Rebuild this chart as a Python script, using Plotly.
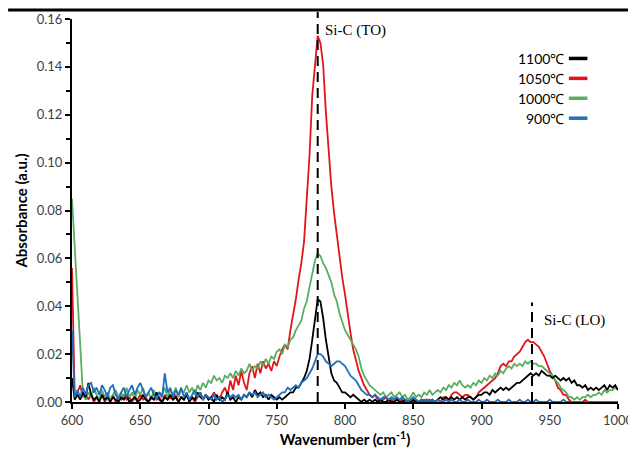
import numpy as np
import plotly.graph_objects as go

# Wavenumber grid (cm^-1), sampled every 2 cm^-1
wavenumber = list(range(600, 1001, 2))

abs_1100 = [
 0.010,0.001,0.003,0.001,0.004,0.002,0.008,0.003,0.001,0.002,
 0.000,0.003,0.001,0.002,0.000,0.002,0.001,0.000,0.002,0.001,
 0.003,0.000,0.001,0.002,0.000,0.001,0.003,0.001,0.000,0.002,
 0.001,0.004,0.001,0.000,0.002,0.001,0.003,0.001,0.002,0.000,
 0.002,0.001,0.003,0.000,0.002,0.001,0.004,0.002,0.001,0.003,
 0.001,0.002,0.000,0.003,0.001,0.002,0.001,0.004,0.001,0.002,
 0.000,0.002,0.001,0.003,0.002,0.004,0.002,0.005,0.003,0.004,
 0.002,0.003,0.001,0.003,0.002,0.001,0.002,0.001,0.002,0.003,
 0.004,0.004,0.006,0.006,0.008,0.010,0.013,0.018,0.026,0.035,
 0.043,0.042,0.035,0.026,0.018,0.012,0.009,0.008,0.006,0.004,
 0.004,0.003,0.002,0.003,0.002,0.001,0.000,0.001,0.000,0.001,
 0.000,0.001,0.000,0.001,0.000,0.000,0.001,0.000,0.000,0.001,
 0.000,0.000,0.001,0.000,0.000,0.001,0.000,0.000,0.001,0.000,
 0.001,0.000,0.001,0.000,0.001,0.002,0.001,0.002,0.001,0.002,
 0.001,0.002,0.001,0.002,0.001,0.002,0.002,0.001,0.002,0.003,
 0.003,0.004,0.004,0.003,0.005,0.004,0.005,0.006,0.005,0.006,
 0.005,0.006,0.007,0.008,0.008,0.009,0.010,0.011,0.012,0.011,
 0.012,0.011,0.013,0.012,0.011,0.011,0.010,0.011,0.010,0.009,
 0.010,0.009,0.010,0.008,0.009,0.007,0.007,0.006,0.007,0.005,
 0.006,0.005,0.006,0.005,0.006,0.007,0.005,0.007,0.006,0.007,
 0.005]

abs_1050 = [
 0.056,0.002,0.004,0.007,0.002,0.004,0.001,0.003,0.000,0.002,
 0.001,0.003,0.000,0.002,0.001,0.003,0.000,0.002,0.001,0.003,
 0.001,0.002,0.000,0.002,0.001,0.003,0.001,0.002,0.000,0.002,
 0.003,0.001,0.002,0.000,0.003,0.001,0.002,0.001,0.003,0.000,
 0.002,0.001,0.003,0.001,0.002,0.000,0.002,0.004,0.001,0.003,
 0.001,0.002,0.004,0.002,0.001,0.004,0.006,0.003,0.009,0.005,
 0.011,0.007,0.013,0.008,0.005,0.012,0.015,0.010,0.016,0.012,
 0.017,0.014,0.016,0.013,0.017,0.015,0.019,0.022,0.024,0.022,
 0.030,0.036,0.043,0.051,0.058,0.067,0.085,0.103,0.128,0.140,
 0.153,0.150,0.141,0.121,0.105,0.090,0.079,0.070,0.060,0.052,
 0.045,0.036,0.029,0.022,0.017,0.013,0.010,0.007,0.005,0.003,
 0.002,0.003,0.001,0.000,0.001,0.002,0.000,0.001,0.000,0.002,
 0.000,0.001,0.000,0.001,0.000,0.000,0.001,0.000,0.000,0.001,
 0.000,0.001,0.000,0.000,0.001,0.000,0.002,0.002,0.001,0.003,
 0.004,0.004,0.003,0.002,0.003,0.003,0.002,0.001,0.002,0.004,
 0.005,0.006,0.007,0.008,0.009,0.010,0.012,0.015,0.016,0.015,
 0.017,0.017,0.019,0.020,0.021,0.023,0.025,0.026,0.025,0.025,
 0.024,0.023,0.021,0.019,0.016,0.013,0.011,0.009,0.006,0.005,
 0.003,0.003,0.001,0.000,0.000,0.000,0.000,0.000,0.001,0.000,
 0.000,0.000,0.000,0.000,0.000,0.000,0.000,0.000,0.000,0.000,
 0.000]

abs_1000 = [
 0.085,0.066,0.046,0.024,0.003,0.001,0.004,0.002,0.006,0.003,
 0.001,0.005,0.002,0.004,0.001,0.003,0.005,0.002,0.004,0.001,
 0.006,0.002,0.004,0.001,0.005,0.003,0.006,0.002,0.004,0.001,
 0.005,0.002,0.004,0.003,0.006,0.002,0.005,0.003,0.006,0.002,
 0.005,0.004,0.007,0.004,0.006,0.003,0.007,0.005,0.008,0.006,
 0.009,0.008,0.011,0.009,0.010,0.008,0.011,0.010,0.012,0.010,
 0.013,0.011,0.014,0.012,0.013,0.016,0.013,0.015,0.014,0.017,
 0.015,0.018,0.016,0.019,0.018,0.021,0.022,0.020,0.024,0.023,
 0.026,0.027,0.030,0.032,0.034,0.039,0.042,0.048,0.053,0.059,
 0.062,0.061,0.058,0.056,0.053,0.050,0.045,0.042,0.037,0.033,
 0.030,0.028,0.026,0.024,0.022,0.019,0.014,0.011,0.009,0.007,
 0.006,0.005,0.004,0.003,0.004,0.002,0.003,0.004,0.002,0.003,
 0.004,0.002,0.003,0.001,0.002,0.004,0.002,0.003,0.002,0.004,
 0.003,0.005,0.003,0.004,0.005,0.004,0.006,0.005,0.007,0.006,
 0.008,0.007,0.009,0.007,0.006,0.007,0.006,0.008,0.007,0.009,
 0.008,0.010,0.009,0.011,0.010,0.012,0.011,0.013,0.012,0.014,
 0.015,0.014,0.016,0.015,0.016,0.015,0.017,0.016,0.017,0.016,
 0.016,0.015,0.015,0.014,0.013,0.012,0.011,0.009,0.008,0.006,
 0.005,0.004,0.002,0.002,0.001,0.002,0.001,0.002,0.002,0.003,
 0.002,0.003,0.003,0.004,0.003,0.005,0.004,0.005,0.005,0.006,
 0.005]

abs_900 = [
 0.030,0.002,0.005,0.002,0.006,0.003,0.007,0.008,0.004,0.006,
 0.003,0.007,0.005,0.002,0.006,0.007,0.003,0.001,0.004,0.006,
 0.002,0.005,0.007,0.003,0.006,0.008,0.005,0.002,0.004,0.006,
 0.003,0.001,0.004,0.002,0.012,0.004,0.006,0.002,0.005,0.003,
 0.006,0.002,0.004,0.001,0.003,0.005,0.002,0.004,0.001,0.003,
 0.002,0.001,0.003,0.001,0.002,0.000,0.001,0.003,0.002,0.003,
 0.002,0.003,0.001,0.003,0.002,0.004,0.003,0.004,0.002,0.003,
 0.004,0.002,0.003,0.002,0.001,0.002,0.003,0.004,0.004,0.006,
 0.005,0.006,0.007,0.006,0.008,0.009,0.010,0.012,0.014,0.017,
 0.020,0.020,0.019,0.017,0.016,0.015,0.016,0.017,0.017,0.016,
 0.015,0.013,0.011,0.010,0.009,0.007,0.005,0.004,0.003,0.003,
 0.002,0.003,0.002,0.001,0.002,0.002,0.001,0.002,0.001,0.002,
 0.001,0.002,0.001,0.000,0.001,0.002,0.001,0.000,0.001,0.000,
 0.001,0.000,0.001,0.000,0.001,0.000,0.000,0.001,0.000,0.001,
 0.000,0.000,0.001,0.000,0.000,0.001,0.000,0.000,0.000,0.001,
 0.000,0.000,0.001,0.000,0.000,0.000,0.001,0.000,0.000,0.000,
 0.001,0.000,0.000,0.000,0.001,0.000,0.000,0.001,0.000,0.000,
 0.001,0.000,0.000,0.000,0.000,0.001,0.000,0.000,0.000,0.000,
 0.001,0.000,0.000,0.000,0.000,0.000,0.000,0.000,0.000,0.000,
 0.000,0.000,0.000,0.000,0.000,0.000,0.000,0.000,0.000,0.000,
 0.000]

series_names = ["1100\u2103", "1050\u2103", "1000\u2103", "900\u2103"]
series_colors = ["#000000", "#E3151B", "#5AAE61", "#1F6FBA"]
series_values = [abs_1100, abs_1050, abs_1000, abs_900]

peak_positions = [780, 937]
peak_labels = ["Si-C (TO)", "Si-C (LO)"]

fig = go.Figure()
draw_order = [1, 2, 0, 3]
for i in draw_order:
    fig.add_trace(go.Scatter(
        x=wavenumber, y=series_values[i], mode="lines", name=series_names[i],
        line=dict(color=series_colors[i], width=1.8), showlegend=False))

# dashed peak markers
fig.add_shape(type="line", xref="x", yref="paper", x0=peak_positions[0], x1=peak_positions[0],
              y0=0, y1=1.018, line=dict(color="black", width=2, dash="10px,6px"))
fig.add_shape(type="line", xref="x", yref="paper", x0=peak_positions[1], x1=peak_positions[1],
              y0=0, y1=0.26, line=dict(color="black", width=2, dash="10px,6px"))

fig.add_annotation(x=peak_positions[0], y=0.971, xref="x", yref="paper", text=peak_labels[0],
                   showarrow=False, xanchor="left", yanchor="middle", xshift=5,
                   font=dict(family="Liberation Serif", size=15, color="black"))
fig.add_annotation(x=peak_positions[1], y=0.213, xref="x", yref="paper", text=peak_labels[1],
                   showarrow=False, xanchor="left", yanchor="middle", xshift=10,
                   font=dict(family="Liberation Serif", size=15, color="black"))

# top border line
fig.add_shape(type="line", xref="paper", yref="paper", x0=-0.117, x1=1.04, y0=1.0235, y1=1.0235,
              line=dict(color="black", width=3))

# custom legend (text left, swatch right)
leg_y = [0.897, 0.845, 0.793, 0.741]
for name, col, yy in zip(series_names, series_colors, leg_y):
    fig.add_annotation(x=0.905, y=yy, xref="paper", yref="paper", text=name, showarrow=False,
                       xanchor="right", yanchor="middle",
                       font=dict(family="Lato", size=14, color="black"))
    fig.add_shape(type="line", xref="paper", yref="paper", x0=0.91, x1=0.944, y0=yy, y1=yy,
                  line=dict(color=col, width=3.5))

fig.update_layout(
    width=628, height=446,
    margin=dict(l=64, r=18, t=11, b=52, autoexpand=False),
    paper_bgcolor="white", plot_bgcolor="white",
    font=dict(family="Lato", color="#404040"),
    xaxis=dict(range=[600, 1000], dtick=50, tick0=600, showgrid=False, zeroline=False,
               automargin=False,
               showline=True, linecolor="black", linewidth=2, ticks="outside", ticklen=5,
               tickcolor="black", tickwidth=1.5,
               tickfont=dict(family="Lato", size=13, color="#404040"),
               title=dict(text="<b>Wavenumber (cm<sup>-1</sup>)</b>", standoff=8,
                          font=dict(family="Lato", size=15, color="black"))),
    yaxis=dict(range=[0, 0.16], dtick=0.02, tickformat=".2f", showgrid=False, zeroline=False,
               automargin=False,
               showline=True, linecolor="black", linewidth=2, ticks="outside", ticklen=5,
               tickcolor="black", tickwidth=1.5,
               minor=dict(ticks="outside", dtick=0.01, ticklen=4, tickcolor="black", tickwidth=1.5),
               tickfont=dict(family="Lato", size=13, color="#404040"),
               title=dict(text="<b>Absorbance (a.u.)</b>", standoff=5,
                          font=dict(family="Lato", size=15, color="black"))),
)

fig.write_html("out.html")
